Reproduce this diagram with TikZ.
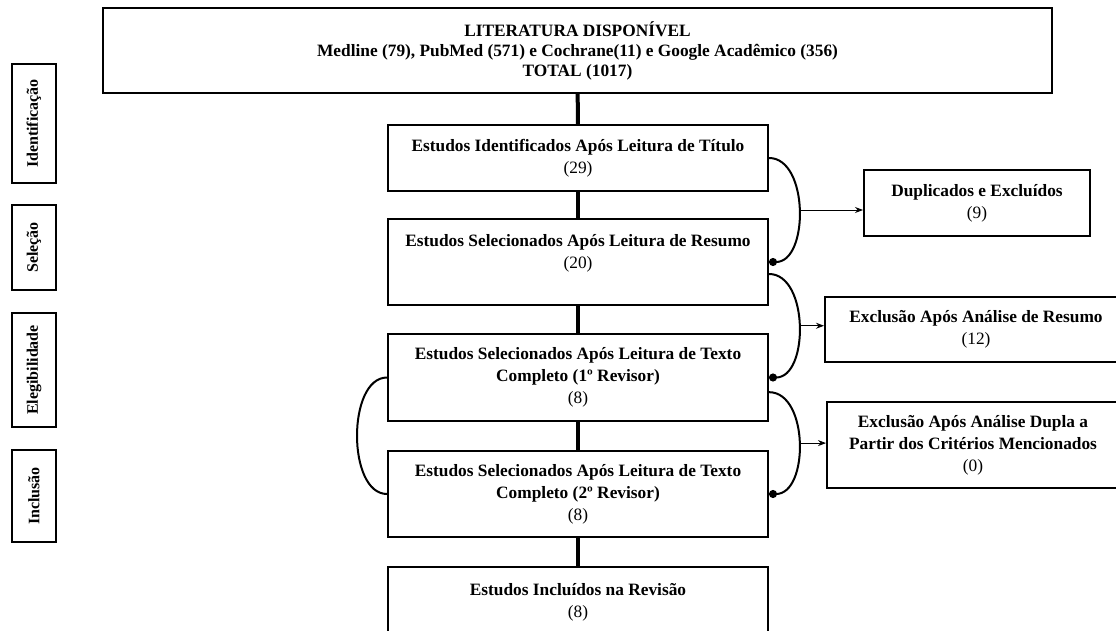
\documentclass[tikz,border=0pt]{standalone}
\usepackage{fontspec}
\setmainfont{Liberation Serif}
\usetikzlibrary{arrows.meta}

\begin{document}
\begin{tikzpicture}[x=0.75pt, y=-0.75pt,
    box/.style={draw, line width=1.5pt, align=center, inner sep=0pt, font=\fontsize{13}{16.5}\selectfont},
    phase/.style={draw, line width=1.2pt, rotate=90, inner sep=0pt, minimum height=33pt, font=\fontsize{12}{13}\selectfont\bfseries},
    flow/.style={line width=3pt},
    brace/.style={line width=1.5pt},
    dotted end/.style={-{Circle[length=6pt]}},
    exit/.style={line width=0.75pt, -{Stealth[length=6pt, width=4.5pt]}}]
    \useasboundingbox (0,0) rectangle (1116,631);
    \clip (0,0) rectangle (1116,631);

    % fases
    \node[phase, minimum width=89.25pt] (ident) at (34,123.5) {Identificação};
    \node[phase, minimum width=63.75pt] (sel) at (34,247.5) {Seleção};
    \node[phase, minimum width=85.5pt] (eleg) at (34,370) {Elegibilidade};
    \node[phase, minimum width=69pt] (incl) at (34,496) {Inclusão};

    % coluna principal
    \node[box, minimum width=711.75pt, minimum height=63.75pt, font=\fontsize{13}{15}\selectfont\bfseries] (lit) at (577.5,50.5)
        {LITERATURA DISPONÍVEL\\Medline (79), PubMed (571) e Cochrane(11) e Google Acadêmico (356)\\TOTAL (1017)};
    \node[box, minimum width=285pt, minimum height=49.5pt] (tit) at (578,158)
        {\textbf{Estudos Identificados Após Leitura de Título}\\(29)};
    \node[box, minimum width=285pt, minimum height=64.5pt] (res) at (578,262)
        {\textbf{Estudos Selecionados Após Leitura de Resumo}\\(20)\\~};
    \node[box, minimum width=285pt, minimum height=65.25pt] (rev1) at (578,377.5)
        {\textbf{Estudos Selecionados Após Leitura de Texto}\\\textbf{Completo (1º Revisor)}\\(8)};
    \node[box, minimum width=285pt, minimum height=64.5pt] (rev2) at (578,494)
        {\textbf{Estudos Selecionados Após Leitura de Texto}\\\textbf{Completo (2º Revisor)}\\(8)};
    \node[box, minimum width=285pt, minimum height=53.25pt] (inc) at (578,602.5)
        {\textbf{Estudos Incluídos na Revisão}\\(8)};

    % exclusões
    \node[box, minimum width=169.5pt, minimum height=49.5pt] (dup) at (977,203)
        {\textbf{Duplicados e Excluídos}\\(9)};
    \node[box, minimum width=226.5pt, minimum height=48.75pt] (exres) at (976,329.5)
        {\textbf{Exclusão Após Análise de Resumo}\\(12)};
    \node[box, minimum width=219pt, minimum height=64.5pt] (exdup) at (973,445)
        {\textbf{Exclusão Após Análise Dupla a}\\\textbf{Partir dos Critérios Mencionados}\\(0)};

    \draw[flow] (lit) -- (tit);
    \draw[flow] (tit) -- (res);
    \draw[flow] (res) -- (rev1);
    \draw[flow] (rev1) -- (rev2);
    \draw[flow] (rev2) -- (inc);

    \draw[brace, dotted end] (tit.east) .. controls +(40,0) and +(40,0) .. (res.east) coordinate[pos=.5] (m1);
    \draw[brace, dotted end] ([yshift=-9pt]res.east) .. controls +(40,0) and +(40,0) .. (rev1.east) coordinate[pos=.5] (m2);
    \draw[brace, dotted end] ([yshift=-11pt]rev1.east) .. controls +(40,0) and +(40,0) .. (rev2.east) coordinate[pos=.5] (m3);
    \draw[brace] (rev1.west) .. controls +(-40,0) and +(-40,0) .. (rev2.west);

    \draw[exit] (m1) -- (m1 -| dup.west);
    \draw[exit] (m2) -- (m2 -| exres.west);
    \draw[exit] (m3) -- (m3 -| exdup.west);
\end{tikzpicture}
\end{document}
